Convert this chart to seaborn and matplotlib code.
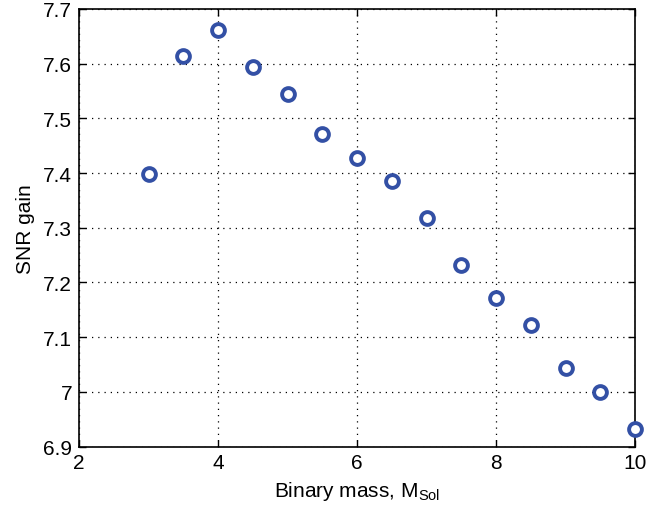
import numpy as np
import pandas as pd
import seaborn as sns
import matplotlib
matplotlib.use("Agg")
import matplotlib.pyplot as plt
from matplotlib.ticker import FuncFormatter

# Binary mass (solar masses) and the corresponding SNR gain
binary_mass = [3.0, 3.5, 4.0, 4.5, 5.0, 5.5, 6.0, 6.5, 7.0, 7.5, 8.0, 8.5, 9.0, 9.5, 10.0]
snr_gain = [7.398, 7.614, 7.661, 7.594, 7.544, 7.471, 7.427, 7.385, 7.317,
            7.232, 7.171, 7.123, 7.043, 7.000, 6.932]

x_ticks = [2, 4, 6, 8, 10]
y_ticks = [6.9, 7.0, 7.1, 7.2, 7.3, 7.4, 7.5, 7.6, 7.7]

df = pd.DataFrame({"mass": binary_mass, "gain": snr_gain})

sns.set_theme(style="white")
plt.rcParams["font.family"] = ["Liberation Sans", "DejaVu Sans"]
plt.rcParams["mathtext.fontset"] = "custom"
plt.rcParams["mathtext.rm"] = "Liberation Sans"

fig = plt.figure(figsize=(6.47, 5.10), dpi=100)
ax = fig.add_axes([0.1221, 0.1225, 0.8594, 0.8579])

sns.scatterplot(data=df, x="mass", y="gain", ax=ax, marker="o", s=85,
                facecolor="white", edgecolor="#3350a5", linewidth=2.8, zorder=3,
                clip_on=False)

ax.set_xlim(2, 10)
ax.set_ylim(6.9, 7.7)
ax.set_xticks(x_ticks)
ax.set_yticks(y_ticks)
ax.xaxis.set_major_formatter(FuncFormatter(lambda v, p: f"{v:g}"))
ax.yaxis.set_major_formatter(FuncFormatter(lambda v, p: f"{v:g}"))

ax.grid(True, linestyle=(0, (1, 4)), color="black", linewidth=0.9)
ax.tick_params(direction="in", length=5, width=1, colors="black",
               labelsize=15, top=True, right=True, bottom=True, left=True, pad=5)
for s in ax.spines.values():
    s.set_color("black")
    s.set_linewidth(1.2)

ax.set_xlabel(r"Binary mass, M$_{\mathrm{Sol}}$", fontsize=15, color="black", labelpad=5)
ax.set_ylabel("SNR gain", fontsize=15, color="black", labelpad=6)

fig.savefig("out.png", dpi=100)
